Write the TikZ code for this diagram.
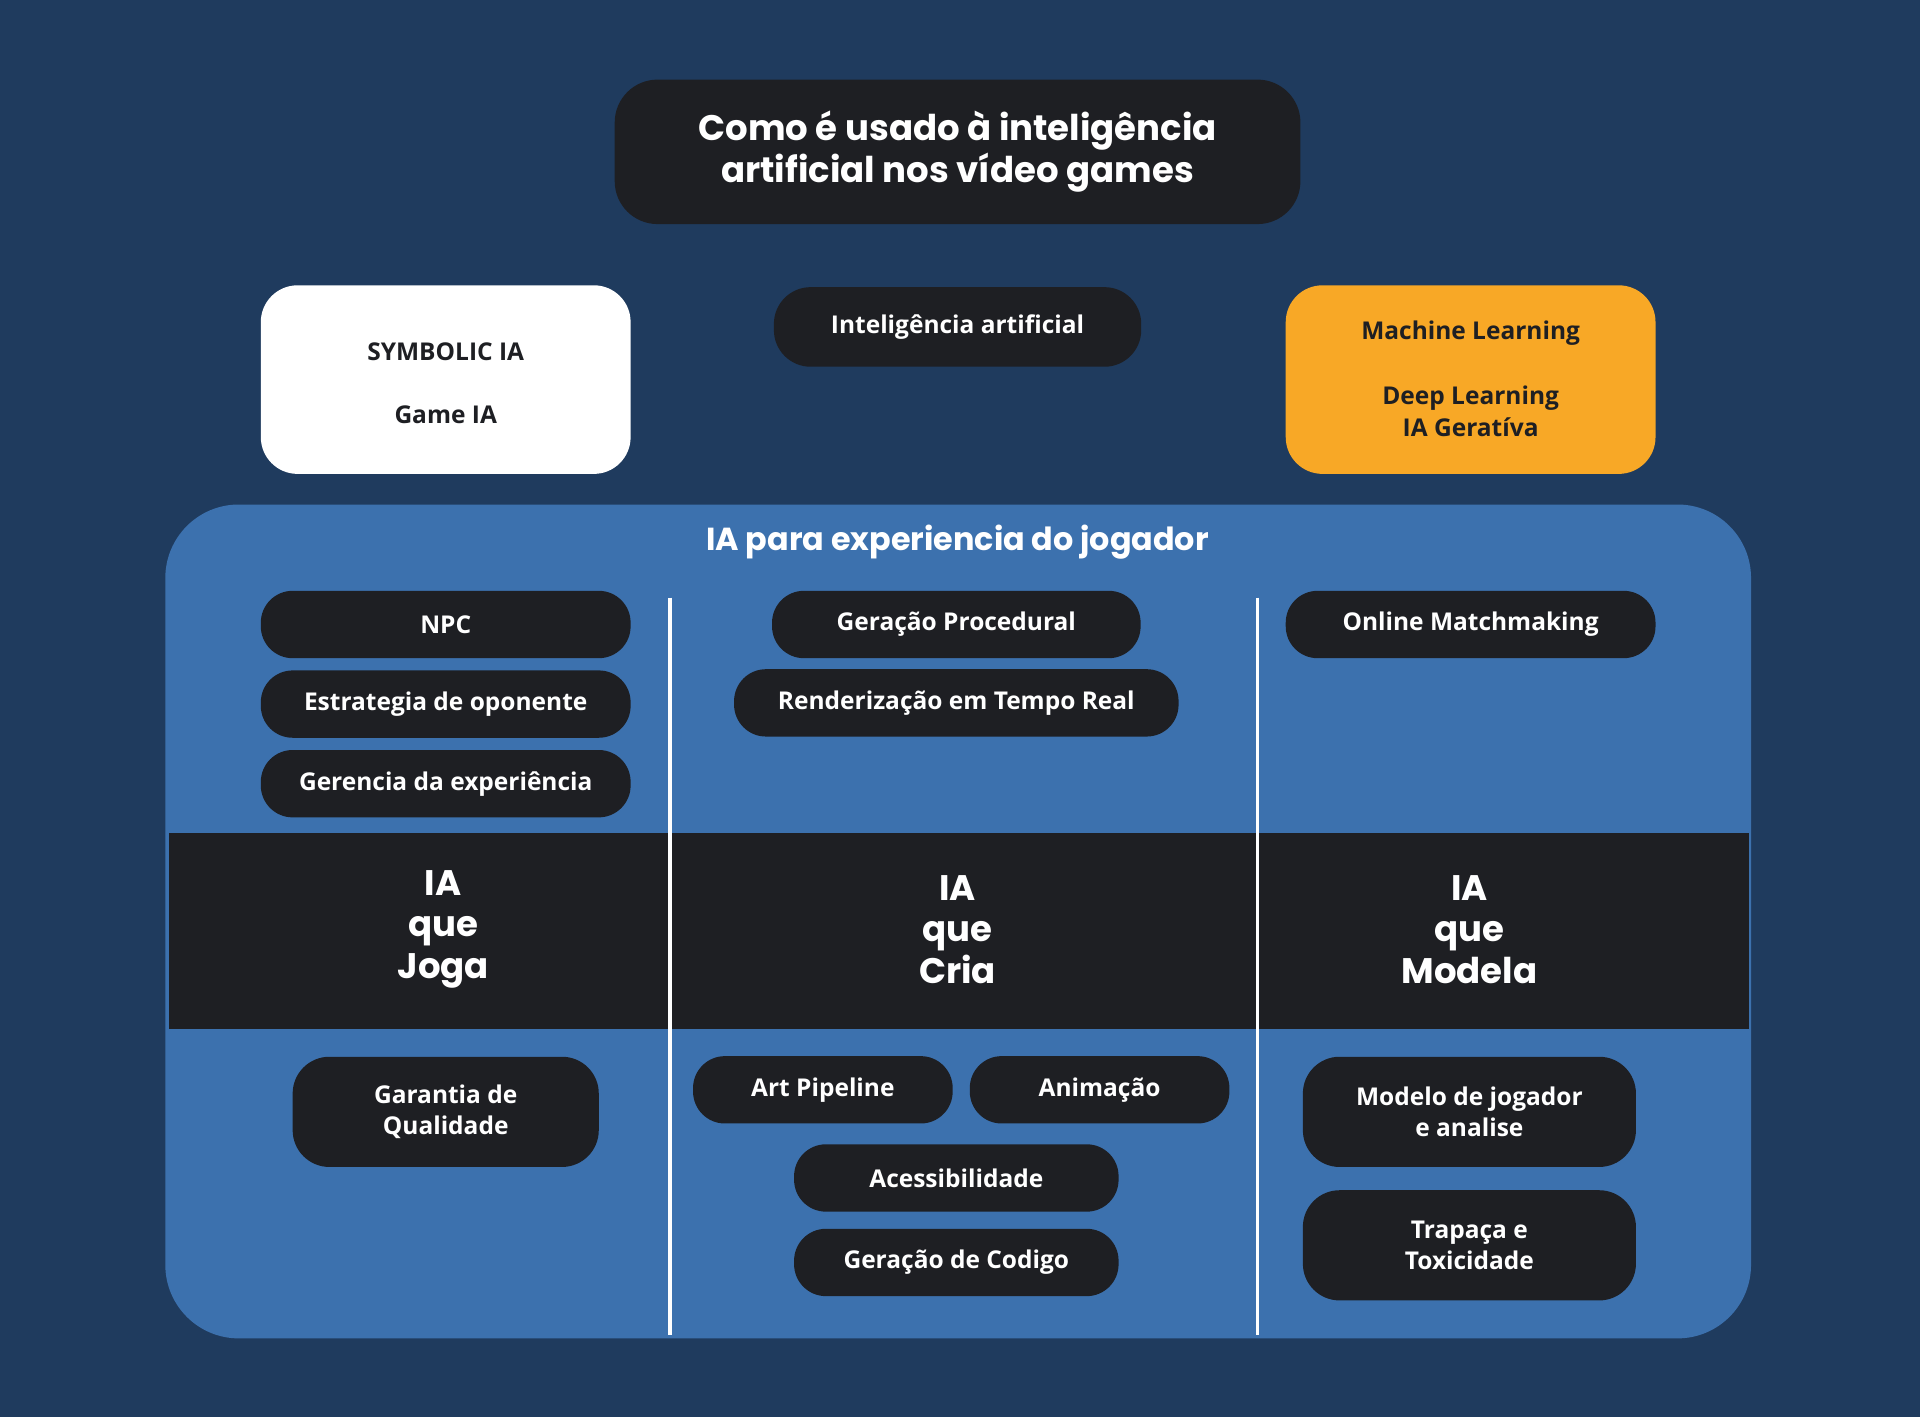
\documentclass[tikz,border=0pt]{standalone}
\usepackage{fontspec}
\setmainfont{Open Sans}
\newfontfamily\headfont{Poppins}[UprightFont=* Bold]
\definecolor{bgc}{HTML}{1F3B5E}
\definecolor{panel}{HTML}{3C71AE}
\definecolor{darkb}{HTML}{1E1F23}
\definecolor{orng}{HTML}{F8A826}
\tikzset{
 pill/.style={fill=darkb, text=white, rounded corners=26pt, inner sep=0pt, align=center, font=\fontsize{20}{25}\selectfont\bfseries},
 head/.style={text=white, align=center, font=\headfont\fontsize{29}{34}\selectfont},
}
\begin{document}
\begin{tikzpicture}[x=1pt,y=-1pt]
\fill[bgc] (0,0) rectangle (1568,1157);
\useasboundingbox (0,0) rectangle (1568,1157);
% title
\node[fill=darkb, rounded corners=35pt, minimum width=560pt, minimum height=118pt, head] (title) at (782,124) {Como é usado à inteligência\\artificial nos vídeo games};
% top row
\node[fill=white, rounded corners=30pt, minimum width=302pt, minimum height=154pt] (sym) at (364,310) {};
\node[text=darkb, font=\fontsize{20}{25}\selectfont\bfseries] (symA) at (364,287) {SYMBOLIC IA};
\node[text=darkb, font=\fontsize{20}{25}\selectfont\bfseries] (symB) at (364,339) {Game IA};
\node[pill, minimum width=300pt, minimum height=65pt, rounded corners=30pt] (ia) at (782,267) {Inteligência artificial};
\node[fill=orng, rounded corners=30pt, minimum width=302pt, minimum height=154pt] (ml) at (1201,310) {};
\node[text=darkb, font=\fontsize{20}{25}\selectfont\bfseries] (mlA) at (1201,272) {Machine Learning};
\node[text=darkb, align=center, font=\fontsize{20}{26}\selectfont\bfseries] (mlB) at (1201,336) {Deep Learning\\IA Geratíva};
% panel
\fill[panel, rounded corners=60pt] (135,412) rectangle (1430,1093);
\node[head, font=\headfont\fontsize{26}{30}\selectfont] (ptitle) at (782,443) {IA para experiencia do jogador};
\fill[darkb] (138,680) rectangle (1428,840);
\coordinate (l1a) at (547,488); \coordinate (l1b) at (547,1090);
\coordinate (l2a) at (1027,488); \coordinate (l2b) at (1027,1090);
\draw[white, line width=3pt] (l1a) -- (l1b);
\draw[white, line width=3pt] (l2a) -- (l2b);
\node[head, font=\headfont\fontsize{29}{34}\selectfont] (c1) at (362,759) {IA\\que\\Joga};
\node[head, font=\headfont\fontsize{29}{34}\selectfont] (c2) at (782,759) {IA\\que\\Cria};
\node[head, font=\headfont\fontsize{29}{34}\selectfont] (c3) at (1200,759) {IA\\que\\Modela};
% pills top
\node[pill, minimum width=302pt, minimum height=55pt] (npc) at (364,510) {NPC};
\node[pill, minimum width=302pt, minimum height=55pt] (est) at (364,575) {Estrategia de oponente};
\node[pill, minimum width=302pt, minimum height=55pt] (ger) at (364,640) {Gerencia da experiência};
\node[pill, minimum width=301pt, minimum height=55pt] (gp) at (781,510) {Geração Procedural};
\node[pill, minimum width=363pt, minimum height=55pt] (ren) at (781,574) {Renderização em Tempo Real};
\node[pill, minimum width=302pt, minimum height=55pt] (om) at (1201,510) {Online Matchmaking};
% pills bottom
\node[pill, minimum width=250pt, minimum height=90pt, rounded corners=30pt] (gq) at (364,908) {Garantia de\\Qualidade};
\node[pill, minimum width=212pt, minimum height=55pt] (ap) at (672,890) {Art Pipeline};
\node[pill, minimum width=212pt, minimum height=55pt] (an) at (898,890) {Animação};
\node[pill, minimum width=265pt, minimum height=55pt] (ac) at (781,962) {Acessibilidade};
\node[pill, minimum width=265pt, minimum height=55pt] (gc) at (781,1031) {Geração de Codigo};
\node[pill, minimum width=272pt, minimum height=90pt, rounded corners=30pt] (mj) at (1200,908) {Modelo de jogador\\e analise};
\node[pill, minimum width=272pt, minimum height=90pt, rounded corners=30pt] (tt) at (1200,1017) {Trapaça e\\Toxicidade};
\end{tikzpicture}
\end{document}
